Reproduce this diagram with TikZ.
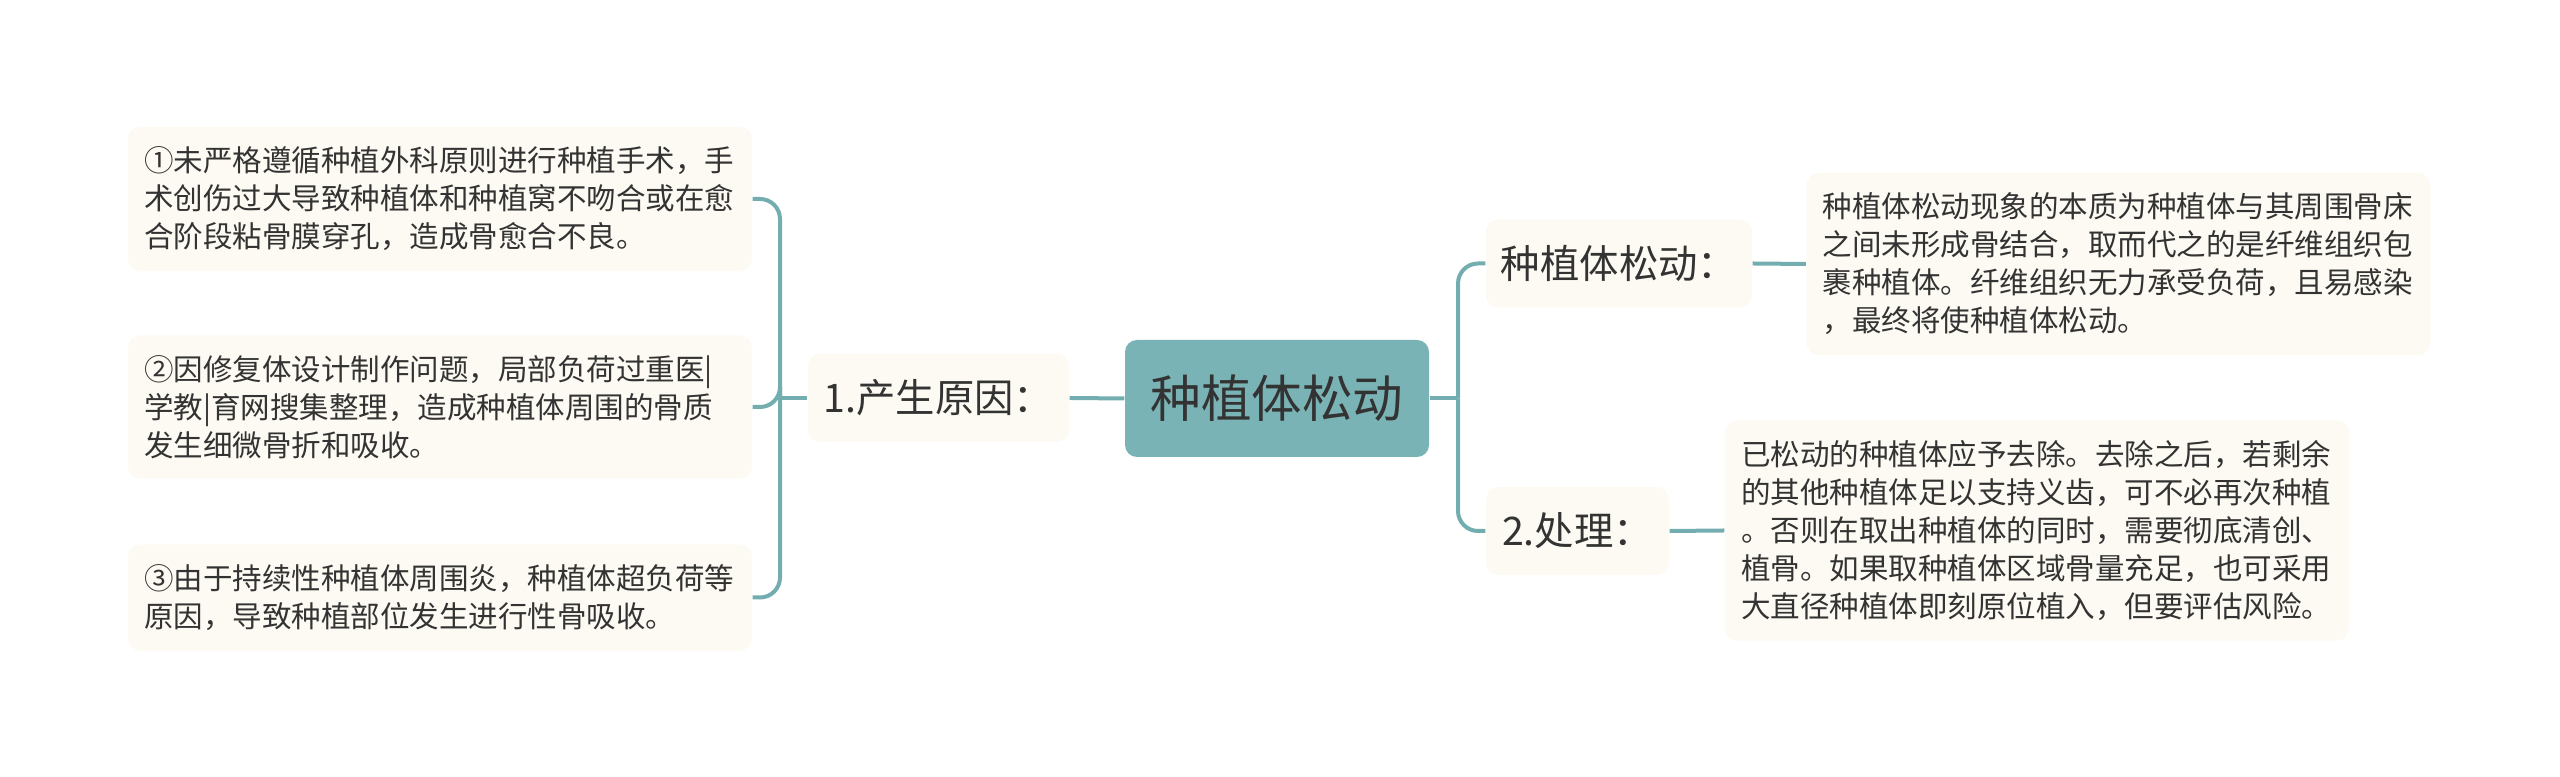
\documentclass[tikz,border=0pt]{standalone}
\usepackage{fontspec}
\setmainfont{Noto Sans CJK SC}
\definecolor{mmteal}{HTML}{7AB3B5}
\definecolor{mmline}{HTML}{74ADB0}
\definecolor{mmcream}{HTML}{FCFAF2}
\definecolor{mmtext}{HTML}{333333}
\begin{document}
\begin{tikzpicture}[text=mmtext,
      root/.style={fill=mmteal, rounded corners=0.12cm, minimum width=3.04cm, minimum height=1.17cm, font=\fontsize{14.4pt}{17pt}\selectfont},
      mid/.style={fill=mmcream, rounded corners=0.12cm, minimum height=0.88cm, font=\fontsize{11.2pt}{13pt}\selectfont},
      leaf/.style={fill=mmcream, rounded corners=0.12cm, align=left, text width=5.92cm, inner xsep=0.16cm, inner ysep=0.2cm, font=\fontsize{8.4pt}{10.8pt}\selectfont},
      link/.style={draw=mmline, line width=0.04cm, rounded corners=0.2cm}]
    \useasboundingbox (0,0) rectangle (25.6,7.77);
    \node[root] (root) at (12.77,3.785) {种植体松动};
    \node[mid, minimum width=2.61cm] (cause) at (9.385,3.79) {1.产生原因：};
    \node[mid, minimum width=2.66cm] (loose) at (16.19,5.135) {种植体松动：};
    \node[mid, minimum width=1.83cm] (treat) at (15.775,2.46) {2.处理：};
    \node[leaf] (leaf1) at (4.40,5.78) {①未严格遵循种植外科原则进行种植手术，手\\术创伤过大导致种植体和种植窝不吻合或在愈\\合阶段粘骨膜穿孔，造成骨愈合不良。};
    \node[leaf] (leaf2) at (4.40,3.70) {②因修复体设计制作问题，局部负荷过重医|\\学教|育网搜集整理，造成种植体周围的骨质\\发生细微骨折和吸收。};
    \node[leaf] (leaf3) at (4.40,1.795) {③由于持续性种植体周围炎，种植体超负荷等\\原因，导致种植部位发生进行性骨吸收。};
    \node[leaf] (det1) at (21.185,5.13) {种植体松动现象的本质为种植体与其周围骨床\\之间未形成骨结合，取而代之的是纤维组织包\\裹种植体。纤维组织无力承受负荷，且易感染\\，最终将使种植体松动。};
    \node[leaf] (det2) at (20.37,2.465) {已松动的种植体应予去除。去除之后，若剩余\\的其他种植体足以支持义齿，可不必再次种植\\。否则在取出种植体的同时，需要彻底清创、\\植骨。如果取种植体区域骨量充足，也可采用\\大直径种植体即刻原位植入，但要评估风险。};
    \coordinate (lfork) at (7.80,3.79);
    \coordinate (rfork) at (14.58,3.785);
    \draw[link] (root.west) -- (cause.east);
    \draw[link] (cause.west) -- (lfork);
    \draw[link] (lfork) |- (leaf1.east);
    \draw[link] (lfork) |- (leaf2.east);
    \draw[link] (lfork) |- (leaf3.east);
    \draw[link] (root.east) -- (rfork);
    \draw[link] (rfork) |- (loose.west);
    \draw[link] (rfork) |- (treat.west);
    \draw[link] (loose.east) -- (det1.west);
    \draw[link] (treat.east) -- (det2.west);
  \end{tikzpicture}
\end{document}
